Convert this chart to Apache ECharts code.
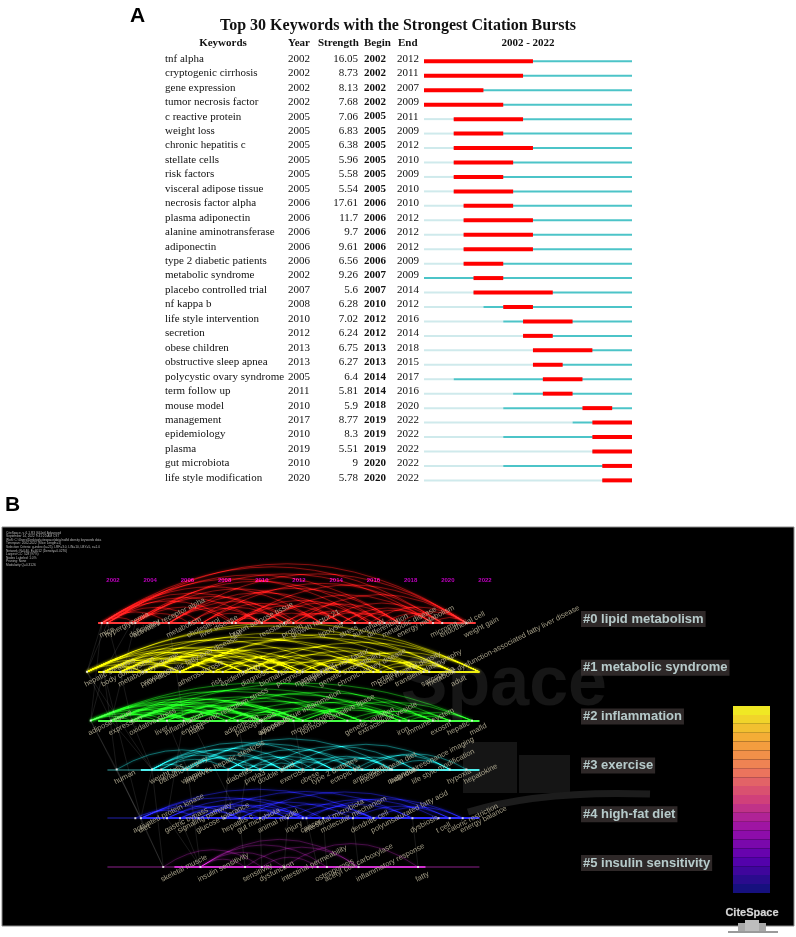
<!DOCTYPE html>
<html>
<head>
<meta charset="utf-8">
<script src="https://cdn.jsdelivr.net/npm/echarts@6/dist/echarts.min.js"></script>
<style>
  html, body { margin: 0; padding: 0; background: #fff; }
  #main { width: 796px; height: 937px; }
</style>
</head>
<body>
<div id="main"></div>
<script>
// ---- panel A: burst table ----
var keywords = ['tnf alpha', 'cryptogenic cirrhosis', 'gene expression', 'tumor necrosis factor',
  'c reactive protein', 'weight loss', 'chronic hepatitis c', 'stellate cells', 'risk factors',
  'visceral adipose tissue', 'necrosis factor alpha', 'plasma adiponectin', 'alanine aminotransferase',
  'adiponectin', 'type 2 diabetic patients', 'metabolic syndrome', 'placebo controlled trial',
  'nf kappa b', 'life style intervention', 'secretion', 'obese children', 'obstructive sleep apnea',
  'polycystic ovary syndrome', 'term follow up', 'mouse model', 'management', 'epidemiology',
  'plasma', 'gut microbiota', 'life style modification'];
var firstYear = [2002, 2002, 2002, 2002, 2005, 2005, 2005, 2005, 2005, 2005, 2006, 2006, 2006, 2006, 2006,
  2002, 2007, 2008, 2010, 2012, 2013, 2013, 2005, 2011, 2010, 2017, 2010, 2019, 2010, 2020];
var strength = [16.05, 8.73, 8.13, 7.68, 7.06, 6.83, 6.38, 5.96, 5.58, 5.54, 17.61, 11.7, 9.7, 9.61, 6.56,
  9.26, 5.6, 6.28, 7.02, 6.24, 6.75, 6.27, 6.4, 5.81, 5.9, 8.77, 8.3, 5.51, 9, 5.78];
var burstBegin = [2002, 2002, 2002, 2002, 2005, 2005, 2005, 2005, 2005, 2005, 2006, 2006, 2006, 2006, 2006,
  2007, 2007, 2010, 2012, 2012, 2013, 2013, 2014, 2014, 2018, 2019, 2019, 2019, 2020, 2020];
var burstEnd = [2012, 2011, 2007, 2009, 2011, 2009, 2012, 2010, 2009, 2010, 2010, 2012, 2012, 2012, 2009,
  2009, 2014, 2012, 2016, 2014, 2018, 2015, 2017, 2016, 2020, 2022, 2022, 2022, 2022, 2022];

// ---- panel B: timeline clusters ----
var clusterNames = ['#0 lipid metabolism', '#1 metabolic syndrome', '#2 inflammation',
  '#3 exercise', '#4 high-fat diet', '#5 insulin sensitivity'];
var clusterSpan = [[2001.2, 2021.5], [2001.2, 2021.7], [2001.2, 2021.7], [2001.7, 2021.7], [2001.7, 2021.7], [2001.7, 2021.7]];
var clusterBright = [[2001.2, 2021.5], [2001.2, 2021.7], [2001.2, 2021.7], [2003.5, 2021.7], [2003.5, 2021.7], [2005.3, 2018.8]];

var nodes0 = [['mice', 2001.4], ['hyperglycemia', 2001.7], ['deficiency', 2003.0], ['activated receptor alpha', 2003.2],
  ['metabolism', 2005.0], ['cholesterol', 2006.1], ['liver disease', 2006.8], ['brown adipose tissue', 2008.4],
  ['fat', 2008.6], ['resistance', 2010.0], ['protein', 2011.2], ['growth factor 21', 2011.7], ['lipolysis', 2013.2],
  ['stress', 2014.3], ['autophagy', 2015.0], ['differentiation', 2015.8], ['metabolic disease', 2016.6],
  ['energy metabolism', 2017.4], ['microrna', 2019.2], ['endothelial cell', 2019.7], ['weight gain', 2021.0]];
var nodes1 = [['hepatic steatosis', 2000.6], ['body composition', 2001.5], ['metabolic syndrome', 2002.4],
  ['prevalence', 2003.6], ['non-alcoholic fatty liver disease', 2003.8], ['atherosclerosis', 2005.6], ['risk', 2007.4],
  ['epidemiology', 2007.9], ['diagnosis', 2009.0], ['biomarker', 2010.0], ['prognosis', 2010.9], ['management', 2011.9],
  ['independent risk factor', 2012.2], ['genetic susceptibility', 2013.2], ['chronic kidney disease', 2014.2],
  ['mortality', 2016.0], ['bone mineral density', 2016.4], ['transient elastography', 2017.3], ['sarcopenia', 2018.7],
  ['metabolic dysfunction-associated fatty liver disease', 2019.0], ['adult', 2020.3]];
var nodes2 = [['adipose tissue', 2000.8], ['expression', 2001.9], ['oxidative stress', 2003.0], ['liver', 2004.4],
  ['inflammation', 2004.9], ['endoplasmic reticulum stress', 2005.8], ['nafld', 2006.2], ['adiponectin', 2008.1],
  ['pathogenesis', 2008.7], ['adipose tissue inflammation', 2009.9], ['apoptosis', 2010.0], ['mouse model', 2011.7],
  ['hormone sensitive lipase', 2012.2], ['genetic variation', 2014.6], ['extracellular vesicle', 2015.3], ['iron', 2017.4],
  ['immune system', 2017.9], ['exosm', 2019.2], ['hepatic', 2020.1], ['mafld', 2021.3]];
var nodes3 = [['human', 2002.2], ['weight loss', 2004.1], ['bariatric surgery', 2004.6], ['vitamin e', 2005.8],
  ['improves hepatic steatosis', 2006.0], ['diabetes', 2008.2], ['pnpla3', 2009.2], ['double blind', 2009.9],
  ['exercise', 2011.1], ['obese', 2012.2], ['type 2 diabetes', 2012.8], ['ectopic fat', 2013.8], ['antioxidant', 2015.0],
  ['mediterranean diet', 2015.4], ['magnetic resonance imaging', 2016.9], ['individual', 2017.0],
  ['life style modification', 2018.2], ['hypoxia', 2020.1], ['hepatokine', 2021.0]];
var nodes4 = [['activated protein kinase', 2003.2], ['diet', 2003.5], ['gastric bypass', 2004.9], ['signaling pathway', 2005.6],
  ['glucose tolerance', 2006.6], ['hepatitis c', 2008.0], ['gut microbiota', 2008.8], ['animal model', 2009.9],
  ['injury', 2011.4], ['cancer', 2012.2], ['intestinal microbiota', 2012.4], ['molecular mechanism', 2013.3],
  ['dendritic cell', 2014.9], ['polyunsaturated fatty acid', 2016.0], ['dysbiosis', 2018.1], ['t cell', 2019.5],
  ['caloric restriction', 2020.1], ['energy balance', 2020.8]];
var nodes5 = [['skeletal muscle', 2004.7], ['insulin sensitivity', 2006.7], ['sensitivity', 2009.1], ['dysfunction', 2010.0],
  ['intestinal permeability', 2011.2], ['osteoporosis', 2013.0], ['acetyl coa carboxylase', 2013.5],
  ['inflammatory response', 2015.2], ['fatty', 2018.4]];

var links0 = [[2001.4, 2008.6], [2001.4, 2011.2], [2001.4, 2013.2], [2001.4, 2015.8], [2001.4, 2019.7], [2001.7, 2010.0],
  [2001.7, 2017.4], [2001.7, 2021.0], [2003.0, 2011.7], [2003.0, 2016.6], [2003.2, 2014.3], [2003.2, 2019.2],
  [2005.0, 2010.0], [2005.0, 2015.0], [2005.0, 2021.0], [2006.1, 2011.2], [2006.1, 2017.4], [2006.8, 2013.2],
  [2006.8, 2019.7], [2008.4, 2011.7], [2008.4, 2015.8], [2008.6, 2014.3], [2008.6, 2021.0], [2010.0, 2013.2],
  [2010.0, 2016.6], [2010.0, 2019.2], [2011.2, 2014.3], [2011.2, 2017.4], [2011.7, 2015.0], [2011.7, 2021.0],
  [2013.2, 2016.6], [2013.2, 2019.7], [2014.3, 2017.4], [2015.0, 2019.2], [2015.8, 2021.0], [2016.6, 2019.7],
  [2003.0, 2006.1], [2001.4, 2005.0], [2006.8, 2010.0], [2017.4, 2021.0], [2001.7, 2006.8], [2003.2, 2008.4],
  [2005.0, 2012.0], [2012.0, 2016.0], [2014.3, 2019.2], [2019.2, 2021.0], [2008.4, 2010.0], [2001.4, 2003.2]];
var links1 = [[2000.6, 2005.6], [2000.6, 2009.0], [2000.6, 2010.9], [2000.6, 2014.2], [2000.6, 2020.3], [2001.5, 2007.4],
  [2001.5, 2010.0], [2001.5, 2012.2], [2001.5, 2016.4], [2002.4, 2007.9], [2002.4, 2011.9], [2002.4, 2019.0],
  [2003.6, 2009.0], [2003.6, 2010.9], [2003.6, 2013.2], [2003.6, 2017.3], [2005.6, 2010.0], [2005.6, 2012.2],
  [2005.6, 2016.0], [2005.6, 2020.3], [2007.4, 2011.9], [2007.4, 2014.2], [2007.9, 2010.9], [2007.9, 2018.7],
  [2009.0, 2013.2], [2009.0, 2016.4], [2010.0, 2014.2], [2010.0, 2019.0], [2010.9, 2016.0], [2011.9, 2017.3],
  [2012.2, 2016.4], [2012.2, 2020.3], [2013.2, 2018.7], [2014.2, 2019.0], [2016.0, 2020.3], [2016.4, 2019.0],
  [2001.5, 2003.6], [2002.4, 2005.6], [2003.6, 2007.4], [2017.3, 2020.3], [2000.6, 2003.6], [2001.5, 2005.6],
  [2002.4, 2009.0], [2003.6, 2011.9], [2000.6, 2021.7], [2005.6, 2021.7], [2009.0, 2021.7], [2013.2, 2021.7]];
var links2 = [[2000.8, 2004.4], [2000.8, 2006.2], [2000.8, 2008.7], [2000.8, 2011.7], [2000.8, 2015.3], [2000.8, 2019.2],
  [2001.9, 2005.8], [2001.9, 2009.9], [2001.9, 2012.2], [2001.9, 2017.4], [2003.0, 2008.1], [2003.0, 2010.0],
  [2003.0, 2014.6], [2003.0, 2021.3], [2004.4, 2008.7], [2004.4, 2012.2], [2004.9, 2009.9], [2004.9, 2017.9],
  [2005.8, 2011.7], [2005.8, 2015.3], [2006.2, 2010.0], [2006.2, 2020.1], [2008.1, 2012.2], [2008.1, 2017.4],
  [2008.7, 2014.6], [2009.9, 2015.3], [2010.0, 2019.2], [2011.7, 2017.9], [2012.2, 2017.4], [2012.2, 2021.3],
  [2014.6, 2019.2], [2015.3, 2020.1], [2017.4, 2021.3], [2017.9, 2020.1], [2001.9, 2004.9], [2003.0, 2006.2],
  [2000.8, 2003.0], [2008.7, 2011.7], [2000.8, 2010.0], [2001.9, 2008.1], [2003.0, 2012.2], [2004.4, 2006.2]];
var links3 = [[2004.1, 2009.2], [2004.1, 2011.1], [2004.1, 2013.8], [2004.6, 2008.2], [2004.6, 2012.2], [2005.8, 2009.9],
  [2005.8, 2015.0], [2006.0, 2011.1], [2006.0, 2017.0], [2008.2, 2012.8], [2008.2, 2015.4], [2009.2, 2013.8],
  [2009.9, 2012.2], [2009.9, 2018.2], [2011.1, 2015.0], [2011.1, 2020.1], [2012.2, 2016.9], [2012.8, 2017.0],
  [2013.8, 2018.2], [2015.0, 2020.1], [2015.4, 2021.0], [2016.9, 2020.1], [2004.1, 2006.0], [2008.2, 2009.9],
  [2002.2, 2009.2], [2009.2, 2011.1], [2011.1, 2013.8]];
var links4 = [[2003.5, 2008.8], [2003.5, 2012.4], [2003.5, 2016.0], [2004.9, 2009.9], [2004.9, 2013.3], [2005.6, 2011.4],
  [2006.6, 2012.2], [2006.6, 2018.1], [2008.0, 2014.9], [2008.8, 2012.4], [2008.8, 2020.1], [2009.9, 2016.0],
  [2011.4, 2019.5], [2012.2, 2018.1], [2012.4, 2020.8], [2013.3, 2016.0], [2014.9, 2020.1], [2016.0, 2020.8],
  [2003.2, 2006.6], [2008.0, 2011.4], [2009.9, 2012.2], [2005.6, 2008.8]];
var links5 = [[2006.7, 2009.1], [2006.7, 2011.2], [2006.7, 2013.5], [2004.7, 2010.0], [2009.1, 2015.2], [2010.0, 2013.0],
  [2011.2, 2018.4], [2006.7, 2015.2]];

// faint links between clusters: [[year, cluster], [year, cluster]]
var crossLinks = [[[2003.5, 4], [2000.8, 2]], [[2003.5, 4], [2004.1, 3]], [[2003.5, 4], [2001.5, 1]], [[2004.9, 4], [2005.8, 2]],
  [[2008.0, 4], [2008.2, 3]], [[2008.8, 4], [2009.2, 3]], [[2009.9, 4], [2010.0, 2]], [[2004.7, 5], [2004.1, 3]],
  [[2004.7, 5], [2003.5, 4]], [[2006.7, 5], [2006.0, 3]], [[2006.7, 5], [2005.6, 4]], [[2009.1, 5], [2008.8, 4]],
  [[2010.0, 5], [2009.9, 4]], [[2011.2, 5], [2011.4, 4]], [[2013.0, 5], [2012.4, 4]], [[2002.2, 3], [2000.8, 2]],
  [[2004.1, 3], [2003.0, 2]], [[2004.1, 3], [2001.9, 2]], [[2006.0, 3], [2004.9, 2]], [[2009.2, 3], [2008.7, 2]],
  [[2000.8, 2], [2001.5, 1]], [[2001.9, 2], [2000.6, 1]], [[2003.0, 2], [2002.4, 1]], [[2000.6, 1], [2001.4, 0]],
  [[2001.5, 1], [2003.0, 0]], [[2002.4, 1], [2001.7, 0]], [[2015.2, 5], [2014.9, 4]], [[2018.4, 5], [2018.1, 4]],
  [[2004.7, 5], [2002.2, 3]], [[2006.7, 5], [2004.9, 4]], [[2003.5, 4], [2002.2, 3]], [[2008.8, 4], [2006.2, 2]],
  [[2000.8, 2], [2001.4, 0]], [[2000.6, 1], [2001.7, 0]], [[2001.9, 2], [2003.2, 0]], [[2002.2, 3], [2001.5, 1]],
  [[2004.1, 3], [2000.6, 1]], [[2005.8, 2], [2005.0, 0]], [[2012.2, 3], [2011.7, 2]], [[2013.5, 5], [2013.3, 4]]];

var clusterNodes = [nodes0, nodes1, nodes2, nodes3, nodes4, nodes5];
var clusterLinks = [links0, links1, links2, links3, links4, links5];

var arcColors = ['#ff1e1e', '#e8e800', '#22f022', '#22d4d4', '#2a2aff', '#c828c8'];
var lineColors = ['#ff3a3a', '#eeee10', '#44ff44', '#50f0f0', '#3030ff', '#d030d0'];
var arcCurve = [0.33, 0.25, 0.22, 0.3, 0.25, 0.35];
var serif = '"Liberation Serif", "Times New Roman", serif';
var sans = '"Liberation Sans", Arial, sans-serif';

var chart = echarts.init(document.getElementById('main'));

var burstRows = keywords.map(function (k, i) {
  return [i, firstYear[i], strength[i], burstBegin[i], burstEnd[i]];
});

var series = [];

// burst bars and row text
series.push({
  type: 'custom',
  xAxisIndex: 0,
  yAxisIndex: 0,
  data: burstRows,
  renderItem: function (params, api) {
    var row = api.value(0);
    var yr = api.value(1);
    var b = api.value(3);
    var e = api.value(4);
    var yc = api.coord([2002, row])[1];
    var x0 = api.coord([2002, row])[0];
    var xy = api.coord([yr, row])[0];
    var xb = api.coord([b, row])[0];
    var xe = api.coord([e + 1, row])[0];
    var x1 = api.coord([2023, row])[0];
    var txt = function (x, s, align, bold) {
      return {
        type: 'text', x: x, y: yc,
        style: { text: s, fill: '#111', fontSize: 11, fontFamily: serif, fontWeight: bold ? 'bold' : 'normal',
          align: align, verticalAlign: 'middle' }
      };
    };
    return {
      type: 'group',
      children: [
        { type: 'rect', shape: { x: x0, y: yc + 1.5, width: xy - x0, height: 2 }, style: { fill: '#cfeaec' } },
        { type: 'rect', shape: { x: xy, y: yc + 1.5, width: x1 - xy, height: 2 }, style: { fill: '#4cc4c8' } },
        { type: 'rect', shape: { x: xb, y: yc + 0.5, width: xe - xb, height: 4 }, style: { fill: '#ff0000' } },
        txt(288, String(yr), 'left', false),
        txt(358, String(api.value(2)), 'right', false),
        txt(364, String(b), 'left', true),
        txt(397, String(e), 'left', false)
      ]
    };
  }
});

// arcs per cluster
clusterLinks.forEach(function (links, c) {
  series.push({
    type: 'lines',
    coordinateSystem: 'cartesian2d',
    xAxisIndex: 1,
    yAxisIndex: 1,
    clip: false,
    blendMode: 'lighter',
    z: 2,
    lineStyle: {
      color: arcColors[c], width: 0.8, opacity: c === 5 ? 0.35 : 0.5, curveness: arcCurve[c],
      shadowBlur: 3, shadowColor: arcColors[c]
    },
    data: links.map(function (l) { return { coords: [[l[0], c], [l[1], c]] }; }),
    silent: true
  });
});

// faint cross-cluster links
series.push({
  type: 'lines',
  coordinateSystem: 'cartesian2d',
  xAxisIndex: 1,
  yAxisIndex: 1,
  clip: false,
  z: 2,
  lineStyle: { color: '#ffffff', width: 0.5, opacity: 0.2, curveness: 0 },
  data: crossLinks.map(function (l) { return { coords: l }; }),
  silent: true
});

// timelines
series.push({
  type: 'lines',
  coordinateSystem: 'cartesian2d',
  xAxisIndex: 1,
  yAxisIndex: 1,
  clip: false,
  z: 3,
  data: clusterSpan.map(function (s, c) {
    return { coords: [[s[0], c], [s[1], c]], lineStyle: { color: lineColors[c], width: 1.5, opacity: 0.45 } };
  }).concat(clusterBright.map(function (s, c) {
    return { coords: [[s[0], c], [s[1], c]], lineStyle: { color: lineColors[c], width: 2, opacity: 1 } };
  })),
  silent: true
});

// nodes with rotated keyword labels
clusterNodes.forEach(function (nodes, c) {
  series.push({
    type: 'scatter',
    xAxisIndex: 1,
    yAxisIndex: 1,
    clip: false,
    z: 4,
    symbol: 'rect',
    symbolSize: [2, 2],
    itemStyle: { color: '#f0f0f0', opacity: 0.85 },
    data: nodes.map(function (n) { return { name: n[0], value: [n[1], c] }; }),
    label: {
      show: true, formatter: '{b}', position: [-1, 14], rotate: 27, align: 'left', verticalAlign: 'middle',
      color: '#bfb99d', fontSize: 7.5, fontFamily: sans
    },
    emphasis: { disabled: true },
    silent: true
  });
});

// cluster names on the right
series.push({
  type: 'scatter',
  xAxisIndex: 1,
  yAxisIndex: 1,
  clip: false,
  z: 5,
  symbolSize: 0,
  data: clusterNames.map(function (n, c) { return { name: n, value: [2022, c] }; }),
  label: {
    show: true, formatter: '{b}', position: 'right', offset: [91, -4],
    color: '#d8f2f2', fontSize: 13, fontWeight: 'bold', fontFamily: sans,
    backgroundColor: '#3a3232', padding: [2, 2, 1, 2]
  },
  emphasis: { disabled: true },
  silent: true
});

// holder for the year colour scale
series.push({ type: 'scatter', xAxisIndex: 1, yAxisIndex: 1, data: [] });

var option = {
  backgroundColor: '#ffffff',
  animation: false,
  title: {
    text: 'Top 30 Keywords with the Strongest Citation Bursts',
    left: 'center',
    top: 13,
    textStyle: { fontFamily: serif, fontSize: 16, fontWeight: 'bold', color: '#111' }
  },
  grid: [
    { left: 424, width: 208, top: 51.6, height: 433.5 },
    { left: 113, width: 372, top: 623, height: 244 }
  ],
  xAxis: [
    { gridIndex: 0, type: 'value', min: 2002, max: 2023, show: false },
    {
      gridIndex: 1, type: 'value', min: 2002, max: 2022, interval: 2, position: 'top',
      axisLine: { show: false }, axisTick: { show: false }, splitLine: { show: false },
      axisLabel: {
        margin: 40, color: '#c000c0', fontSize: 6, fontWeight: 'bold', fontFamily: sans,
        formatter: function (v) { return String(v); }
      }
    }
  ],
  yAxis: [
    {
      gridIndex: 0, type: 'category', data: keywords, inverse: true,
      axisLine: { show: false }, axisTick: { show: false }, splitLine: { show: false },
      axisLabel: { interval: 0, align: 'left', margin: 259, fontFamily: serif, fontSize: 11, color: '#111' }
    },
    { gridIndex: 1, type: 'value', min: 0, max: 5, inverse: true, show: false }
  ],
  visualMap: {
    type: 'piecewise',
    min: 2002,
    max: 2022,
    splitNumber: 21,
    orient: 'vertical',
    left: 733,
    top: 706,
    padding: 0,
    itemWidth: 37,
    itemHeight: 8.9,
    itemGap: 0,
    itemSymbol: 'rect',
    showLabel: false,
    hoverLink: false,
    selectedMode: false,
    seriesIndex: series.length - 1,
    inRange: { color: ['#16107e', '#5a00b0', '#9a10a8', '#d0407a', '#ee7a5a', '#f4a638', '#f0e824'] }
  },
  graphic: [
    { type: 'text', left: 130, top: 6, style: { text: 'A', fontSize: 21, fontWeight: 'bold', fontFamily: sans, fill: '#000' } },
    { type: 'text', left: 5, top: 495, style: { text: 'B', fontSize: 21, fontWeight: 'bold', fontFamily: sans, fill: '#000' } },
    { type: 'text', x: 223, y: 43, style: { text: 'Keywords', align: 'center', verticalAlign: 'middle', fontSize: 11, fontWeight: 'bold', fontFamily: serif, fill: '#111' } },
    { type: 'text', x: 288, y: 43, style: { text: 'Year', verticalAlign: 'middle', fontSize: 11, fontWeight: 'bold', fontFamily: serif, fill: '#111' } },
    { type: 'text', x: 318, y: 43, style: { text: 'Strength', verticalAlign: 'middle', fontSize: 11, fontWeight: 'bold', fontFamily: serif, fill: '#111' } },
    { type: 'text', x: 364, y: 43, style: { text: 'Begin', verticalAlign: 'middle', fontSize: 11, fontWeight: 'bold', fontFamily: serif, fill: '#111' } },
    { type: 'text', x: 398, y: 43, style: { text: 'End', verticalAlign: 'middle', fontSize: 11, fontWeight: 'bold', fontFamily: serif, fill: '#111' } },
    { type: 'text', x: 528, y: 43, style: { text: '2002 - 2022', align: 'center', verticalAlign: 'middle', fontSize: 11, fontWeight: 'bold', fontFamily: serif, fill: '#111' } },
    // black canvas of panel B
    { type: 'rect', z: -10, shape: { x: 2, y: 527, width: 792, height: 399 }, style: { fill: '#000', stroke: '#8a8a8a', lineWidth: 1 } },
    // faint CiteSpace watermark
    { type: 'text', z: -9, x: 607, y: 686, style: { text: 'Space', align: 'right', verticalAlign: 'middle', fontSize: 70, fontWeight: 'bold', fontFamily: sans, fill: '#161616' } },
    { type: 'rect', z: -9, shape: { x: 463, y: 742, width: 54, height: 51 }, style: { fill: '#151515' } },
    { type: 'rect', z: -9, shape: { x: 519, y: 755, width: 51, height: 38 }, style: { fill: '#151515' } },
    { type: 'bezierCurve', z: -9, shape: { x1: 468, y1: 812, x2: 650, y2: 794, cpx1: 540, cpy1: 790 }, style: { stroke: '#1c1c1c', lineWidth: 7, fill: null } },
    {
      type: 'text', z: -8, x: 6, y: 531,
      style: {
        text: 'CiteSpace, v. 6.1.R3 (64-bit) Advanced\nSeptember 14, 2022 9:41:20 AM CST\nWoS: C:\\Users\\Desktop\\citespace\\data\\nafld obesity keywords data\nTimespan: 2002-2022 (Slice Length=1)\nSelection Criteria: g-index (k=25), LRF=3.0, L/N=10, LBY=5, e=1.0\nNetwork: N=540, E=4012 (Density=0.0276)\nLargest CC: 528 (97%)\nNodes Labeled: 1.0%\nPruning: None\nModularity Q=0.3126',
        fontSize: 3.2, lineHeight: 3.6, fontFamily: sans, fill: '#b8b8b8'
      }
    },
    // CiteSpace logo
    { type: 'text', z: 10, x: 752, y: 913, style: { text: 'CiteSpace', align: 'center', verticalAlign: 'middle', fontSize: 11, fontWeight: 'bold', fontFamily: sans, fill: '#d8d8d8', stroke: '#555', lineWidth: 0.5 } },
    { type: 'rect', z: 10, shape: { x: 738, y: 923, width: 28, height: 8 }, style: { fill: '#a8a8a8' } },
    { type: 'rect', z: 10, shape: { x: 745, y: 920, width: 14, height: 11 }, style: { fill: '#bdbdbd' } },
    { type: 'rect', z: 10, shape: { x: 728, y: 931, width: 50, height: 2 }, style: { fill: '#9a9a9a' } }
  ],
  series: series
};

chart.setOption(option);
</script>
</body>
</html>
